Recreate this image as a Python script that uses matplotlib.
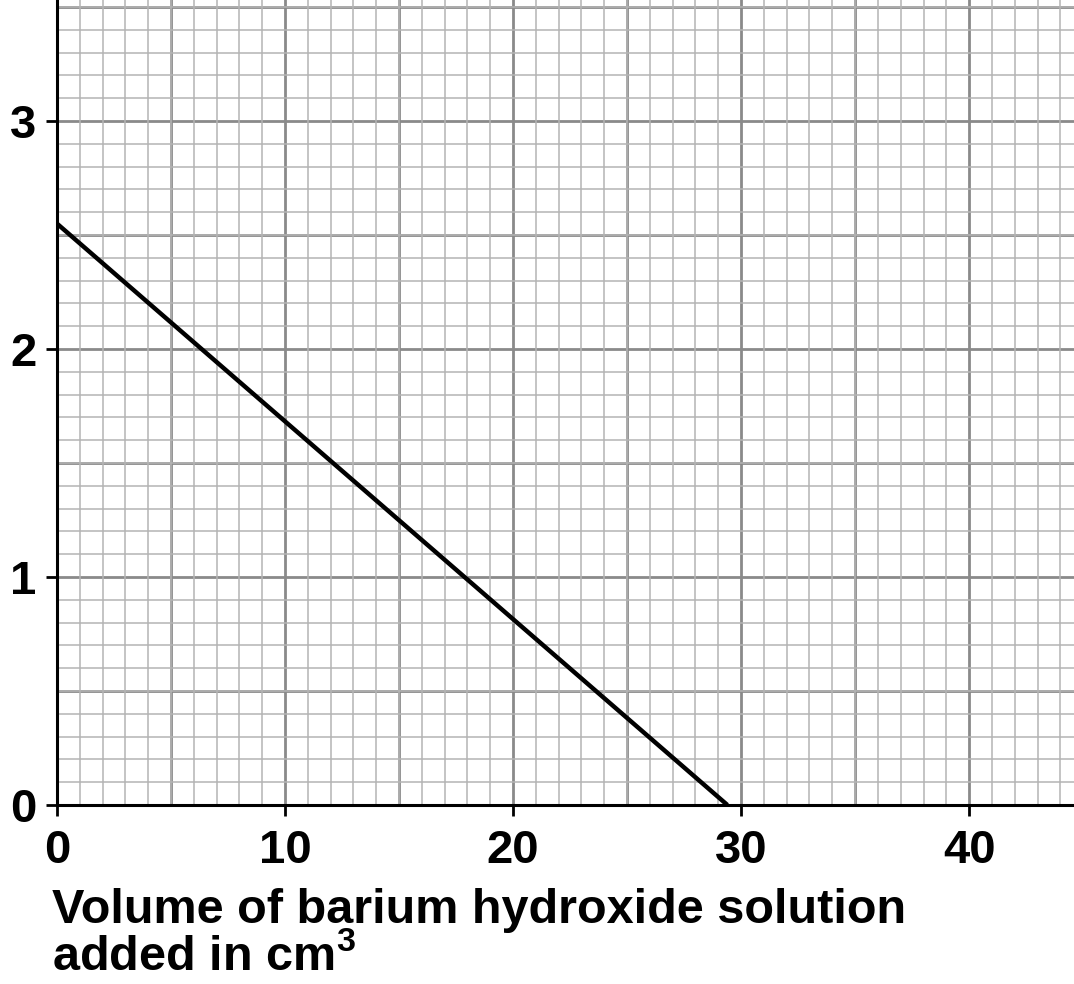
import matplotlib
matplotlib.use("Agg")
import matplotlib.pyplot as plt
from matplotlib.ticker import MultipleLocator

plt.rcParams["font.family"] = ["Liberation Sans", "DejaVu Sans"]
plt.rcParams["font.weight"] = "bold"
plt.rcParams["mathtext.fontset"] = "custom"
plt.rcParams["mathtext.rm"] = "Liberation Sans:bold"
plt.rcParams["mathtext.bf"] = "Liberation Sans:bold"
plt.rcParams["mathtext.default"] = "bf"

# data
volume = [0, 29.4]
value = [2.55, 0]
x_ticks = [0, 10, 20, 30, 40]
y_ticks = [0, 1, 2, 3]

fig = plt.figure(figsize=(10.74, 9.84), dpi=100)
ax = fig.add_axes([0.0531, 0.1819, 0.9469, 0.8181])

ax.set_xlim(0, 44.6)
ax.set_ylim(0, 3.531)

# graph paper grid
ax.xaxis.set_minor_locator(MultipleLocator(1))
ax.yaxis.set_minor_locator(MultipleLocator(0.1))
for v in range(0, 45, 5):
    ax.axvline(v, color="#8a8a8a", lw=2.0, zorder=1)
for v in [i * 0.5 for i in range(8)]:
    ax.axhline(v, color="#8a8a8a", lw=2.0, zorder=1)
ax.grid(which="minor", color="#b4b4b4", lw=1.1, zorder=0)
ax.tick_params(which="minor", length=0)

ax.plot(volume, value, color="black", lw=3.2, zorder=3, solid_capstyle="butt")

ax.set_xticks(x_ticks)
ax.set_yticks(y_ticks)
ax.tick_params(which="major", labelsize=34, length=8, width=2, pad=7,
               color="black")
ax.tick_params(axis="x", pad=9)

for s in ["top", "right"]:
    ax.spines[s].set_visible(False)
for s in ["left", "bottom"]:
    ax.spines[s].set_linewidth(2.2)
    ax.spines[s].set_zorder(4)

fig.text(0.0485, 0.0142, "Volume of barium hydroxide solution\nadded in cm$^{3}$",
         fontsize=35, fontweight="bold", ha="left", va="baseline",
         linespacing=1.03)

fig.savefig("out.png", dpi=100)
